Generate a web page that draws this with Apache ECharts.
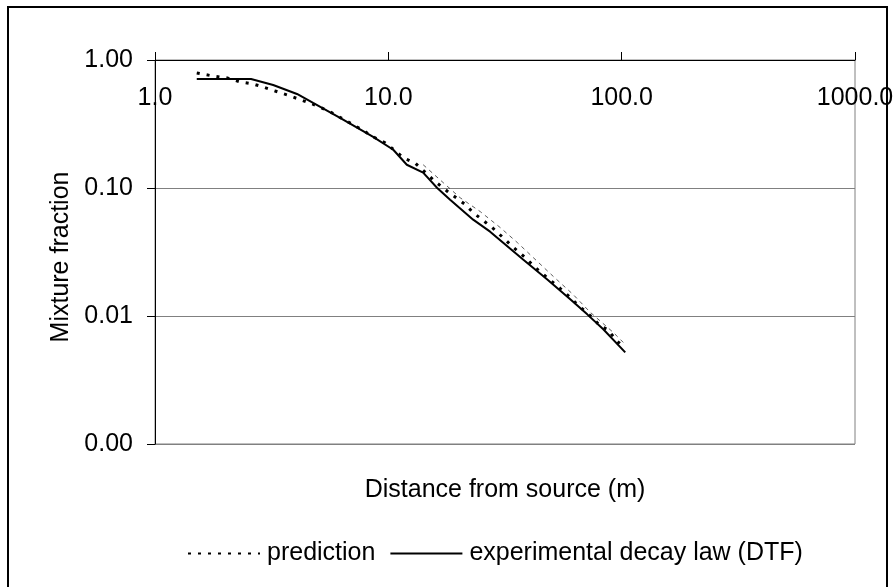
<!DOCTYPE html>
<html>
<head>
<meta charset="utf-8">
<script src="https://cdn.jsdelivr.net/npm/echarts@6/dist/echarts.min.js"></script>
<style>
html,body{margin:0;padding:0;background:#fff;}
#c{width:896px;height:587px;}
</style>
</head>
<body>
<div id="c"></div>
<script>
// Distances (m) and mixture fraction values
const expX = [1.51, 2.58, 3.21, 4.06, 4.76, 6.21, 8.61, 10.5, 12.0, 14.1, 16.2, 18.4, 23.1, 27.3, 37.8, 48.0, 60.2, 71.2, 83.4, 103.6];
const expY = [0.71, 0.71, 0.638, 0.543, 0.462, 0.353, 0.251, 0.199, 0.152, 0.132, 0.100, 0.081, 0.0566, 0.0456, 0.0276, 0.0193, 0.0135, 0.0103, 0.00787, 0.0052];

const predX = [1.51, 1.77, 2.04, 2.31, 2.63, 2.90, 3.27, 3.68, 4.10, 4.71, 5.63, 7.72, 8.61, 9.69, 10.7, 11.6, 13.0, 15.9, 18.0, 21.4, 23.1, 27.9, 31.7, 34.0, 38.6, 42.6, 54.5, 61.4, 64.5, 74.8, 81.0, 86.7, 95.8, 101.6];
const predY = [0.792, 0.750, 0.724, 0.674, 0.650, 0.616, 0.573, 0.534, 0.497, 0.454, 0.394, 0.285, 0.251, 0.225, 0.195, 0.172, 0.157, 0.112, 0.0935, 0.0741, 0.0642, 0.049, 0.0395, 0.0349, 0.0286, 0.0239, 0.0164, 0.0135, 0.0123, 0.00976, 0.0083, 0.0079, 0.00634, 0.0058];

const thinX = [14.1, 17.2, 20.3, 24.8, 30.2, 35.7, 41.8, 50.9, 62.0, 73.3, 92.0, 101.6];
const thinY = [0.152, 0.110, 0.084, 0.0653, 0.049, 0.0375, 0.0286, 0.0204, 0.0147, 0.0107, 0.00745, 0.00622];

const xTicks = [1, 10, 100, 1000];
const yTicks = [1, 0.1, 0.01, 0.001];

const seriesNames = ['prediction', 'experimental decay law (DTF)'];
const xTitle = 'Distance from source (m)';
const yTitle = 'Mixture fraction';

const pair = (xs, ys) => xs.map((x, i) => [x, ys[i]]);
const FONT = '"Liberation Sans", Arial, sans-serif';
const FS = 25;

const chart = echarts.init(document.getElementById('c'), null, {renderer: 'canvas'});
chart.setOption({
  animation: false,
  backgroundColor: '#fff',
  textStyle: {fontFamily: FONT},
  grid: {left: 155, right: 41, top: 60, bottom: 143, containLabel: false, outerBoundsMode: 'none',
    show: true, borderColor: '#808080', borderWidth: 1, backgroundColor: 'transparent'},
  xAxis: {
    type: 'log', logBase: 10, min: xTicks[0], max: xTicks[xTicks.length - 1],
    position: 'top',
    axisLine: {show: true, lineStyle: {color: '#000', width: 1}},
    axisTick: {show: true, inside: false, length: 8, lineStyle: {color: '#000'}},
    minorTick: {show: false},
    splitLine: {show: false},
    axisLabel: {inside: true, margin: 26, color: '#000', fontSize: FS, fontFamily: FONT,
      formatter: v => Number(v).toFixed(1)}
  },
  yAxis: {
    type: 'log', logBase: 10, min: yTicks[yTicks.length - 1], max: yTicks[0],
    name: yTitle, nameLocation: 'middle', nameGap: 76,
    nameTextStyle: {color: '#000', fontSize: FS, fontFamily: FONT, padding: [0, 10, 0, 0]},
    axisLine: {show: true, lineStyle: {color: '#000', width: 1}},
    axisTick: {show: true, inside: false, length: 8, lineStyle: {color: '#000'}},
    splitLine: {show: true, lineStyle: {color: '#808080', width: 1}},
    axisLabel: {margin: 22, color: '#000', fontSize: FS, fontFamily: FONT,
      formatter: v => Number(v).toFixed(2)}
  },
  legend: {
    data: seriesNames,
    top: 536, left: 182,
    itemWidth: 72, itemHeight: 14, itemGap: 14,
    itemStyle: {opacity: 0},
    textStyle: {color: '#000', fontSize: FS, fontFamily: FONT, padding: [0, 0, 0, 2]}
  },
  graphic: [
    {type: 'rect', shape: {x: 8, y: 7, width: 879, height: 640}, style: {fill: 'none', stroke: '#000', lineWidth: 2}, silent: true},
    {type: 'text', x: 505, y: 490, style: {text: xTitle, textAlign: 'center', textVerticalAlign: 'middle', font: FS + 'px ' + FONT, fill: '#000'}}
  ],
  series: [
    {name: 'prediction (fine)', type: 'line', data: pair(thinX, thinY), showSymbol: false, symbol: 'none',
      itemStyle: {color: '#000'}, lineStyle: {color: '#333', width: 0.8, type: [4, 4]}, z: 1},
    {name: seriesNames[0], type: 'line', data: pair(predX, predY), showSymbol: false, symbol: 'none',
      itemStyle: {color: '#000'}, lineStyle: {color: '#000', width: 3, type: [3, 7]}, z: 3},
    {name: seriesNames[1], type: 'line', data: pair(expX, expY), showSymbol: false, symbol: 'none',
      itemStyle: {color: '#000'}, lineStyle: {color: '#000', width: 2}, z: 2}
  ]
});
</script>
</body>
</html>
